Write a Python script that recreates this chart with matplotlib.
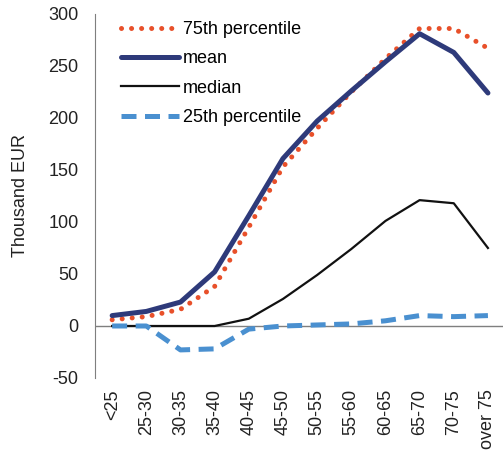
import numpy as np
import matplotlib.pyplot as plt

plt.rcParams['font.family'] = ['Liberation Sans', 'DejaVu Sans']
plt.rcParams['axes.unicode_minus'] = False

age_groups = ['<25', '25-30', '30-35', '35-40', '40-45', '45-50',
              '50-55', '55-60', '60-65', '65-70', '70-75', 'over 75']
p75 = [6, 9, 16, 38, 95, 153, 190, 225, 257, 286, 286, 267]
mean = [10, 14, 23, 52, 106, 161, 197, 226, 254, 281, 263, 224]
median = [0, 0, 0, 0, 7, 26, 49, 74, 101, 121, 118, 75]
p25 = [0, 0, -23, -22, -3, 0, 1, 2, 5, 10, 9, 10]

fs = 13
fig = plt.figure(figsize=(5.03, 4.5), dpi=100)
ax = fig.add_axes([0.189, 0.16, 0.815, 0.809])

x = np.arange(len(age_groups))
ax.plot(x, p75, color='#E8502A', lw=3.6, linestyle=(0, (0.01, 2)),
        dash_capstyle='round', label='75th percentile')
ax.plot(x, mean, color='#2E3A7A', lw=3.6, solid_capstyle='round', label='mean')
ax.plot(x, median, color='#111111', lw=1.6, label='median')
ax.plot(x, p25, color='#4A90D0', lw=3.6, linestyle=(0, (3, 1.7)),
        dash_capstyle='butt', label='25th percentile')

ax.axhline(0, color='#7f7f7f', lw=1, zorder=0)
ax.set_xlim(-0.5, 11.5)
ax.set_ylim(-50, 300)
ax.set_yticks(range(-50, 301, 50))
ax.set_xticks(x)
ax.set_xticklabels(age_groups, rotation=90, fontsize=fs, color='#222222')
ax.tick_params(axis='y', labelsize=fs, length=0, pad=12, labelcolor='#222222')
ax.tick_params(axis='x', length=0, pad=8)
for s in ['top', 'right', 'bottom']:
    ax.spines[s].set_visible(False)
ax.spines['left'].set_color('#7f7f7f')
ax.set_ylabel('Thousand EUR', fontsize=fs, color='#222222', labelpad=14)

ax.legend(loc='upper left', frameon=False, fontsize=fs, handlelength=3.2,
          handletextpad=0.25, labelspacing=0.68, borderaxespad=0,
          bbox_to_anchor=(0.045, 1.0))

fig.savefig('out.png', dpi=100)
